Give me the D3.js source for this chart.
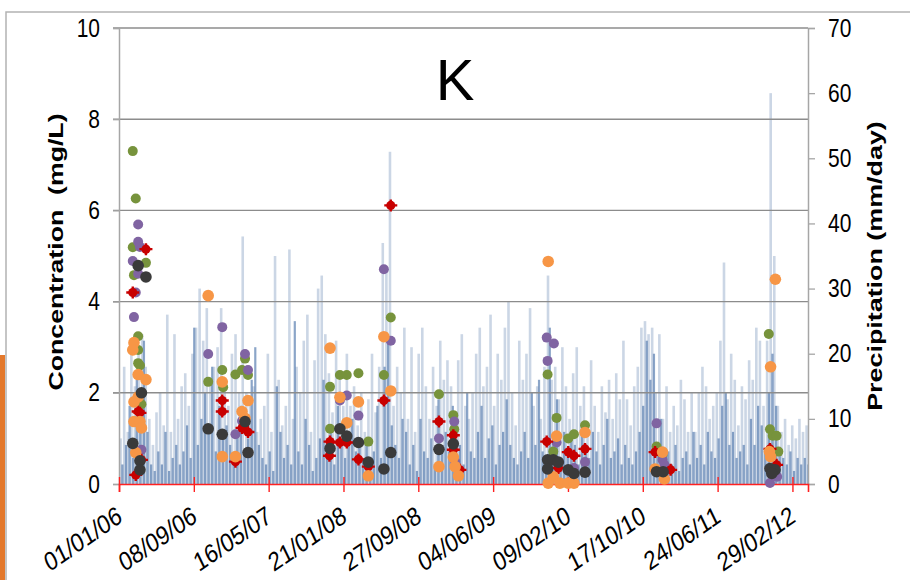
<!DOCTYPE html>
<html>
<head>
<meta charset="utf-8">
<script src="https://cdn.jsdelivr.net/npm/d3@7"></script>
<style>
  body { margin: 0; background: #fff; }
  svg { display: block; font-family: 'Liberation Sans', Arial, sans-serif; }
</style>
</head>
<body>
<div id="chart"></div>
<script>
// x ticks every 250 days
const xTickLabels = ['01/01/06', '08/09/06', '16/05/07', '21/01/08', '27/09/08',
  '04/06/09', '09/02/10', '17/10/10', '24/06/11', '29/02/12'];

const concTicks = [0, 2, 4, 6, 8, 10];
const precipTicks = [0, 10, 20, 30, 40, 50, 60, 70];

// precipitation (mm/day), one bar every 12 days from 01/01/06
const precipStep = 12;
const precipLight = [
  7, 18, 8, 20, 15, 21, 23, 18, 10, 6,
  11, 14, 9, 26, 8, 23, 10, 15, 17, 12,
  20, 24, 30, 22, 27, 16, 18, 21, 27, 15,
  12, 20, 23, 14, 38, 14, 12, 15, 8, 10,
  12, 20, 8, 35, 16, 9, 12, 36, 10, 18,
  14, 22, 26, 8, 19, 30, 32, 23, 17, 11,
  22, 16, 12, 20, 12, 15, 9, 14, 8, 13,
  20, 11, 18, 37, 33, 51, 12, 18, 14, 24,
  10, 21, 8, 20, 24, 15, 10, 18, 12, 22,
  16, 19, 15, 8, 19, 23, 12, 10, 14, 20,
  24, 15, 18, 26, 12, 20, 16, 24, 28, 14,
  9, 22, 16, 20, 27, 12, 15, 10, 18, 32,
  16, 18, 13, 21, 15, 10, 17, 21, 12, 15,
  9, 19, 12, 8, 15, 11, 16, 10, 17, 13,
  22, 13, 9, 15, 18, 24, 25, 23, 24, 14,
  23, 10, 15, 8, 12, 9, 16, 13, 8, 14,
  8, 14, 18, 15, 10, 12, 14, 22, 34, 13,
  20, 16, 9, 15, 13, 19, 16, 24, 22, 12,
  22, 60, 35, 12, 8, 10, 6, 9, 7, 10,
  8, 9
];
// second gauge, offset by 6 days
const precipDark = [
  3, 6, 12, 4, 16, 10, 22, 8, 3, 2,
  5, 3, 8, 2, 4, 6, 3, 5, 9, 4,
  24, 6, 10, 14, 8, 18, 5, 12, 7, 9,
  6, 4, 8, 12, 5, 7, 16, 21, 6, 4,
  3, 5, 2, 15, 8, 4, 6, 3, 25, 5,
  3, 10, 6, 2, 4, 7, 16, 5, 9, 3,
  12, 6, 4, 8, 10, 5, 7, 4, 6, 3,
  5, 12, 4, 18, 22, 9, 6, 4, 10, 8,
  3, 6, 2, 10, 5, 4, 7, 3, 13, 6,
  8, 5, 12, 4, 6, 3, 14, 5, 4, 8,
  12, 4, 7, 9, 3, 6, 8, 13, 6, 4,
  3, 5, 8, 4, 14, 6, 16, 5, 4, 24,
  6, 13, 4, 8, 5, 7, 6, 3, 9, 5,
  4, 8, 5, 3, 6, 10, 4, 5, 7, 3,
  6, 4, 3, 5, 8, 12, 22, 16, 20, 6,
  10, 4, 5, 3, 6, 2, 4, 5, 3, 8,
  4, 6, 3, 8, 5, 4, 7, 12, 14, 6,
  8, 4, 5, 6, 3, 10, 6, 12, 9, 5,
  14, 20, 12, 5, 4, 3, 5, 2, 4, 3,
  4, 3
];

// K concentration (mg/L) samples: [days since 01/01/06, value]
const siteGreen = [
  [46, 7.30], [56, 6.26], [46, 5.19], [90, 4.85], [50, 4.58], [64, 3.24], [64, 2.94],
  [64, 2.65], [70, 2.6], [75, 1.75],
  [298, 2.24], [345, 2.5], [348, 2.12], [389, 2.4], [411, 2.5], [421, 2.75], [431, 2.39],
  [908, 3.65], [705, 2.13], [738, 2.39], [761, 2.39], [800, 2.43], [885, 2.39], [705, 1.21], [833, 0.93],
  [1069, 1.97], [1117, 1.51], [1120, 1.2],
  [1432, 2.4], [1462, 1.45], [1501, 1.0], [1520, 1.09], [1557, 1.29], [1451, 0.71],
  [1796, 0.82], [1816, 0.64],
  [2171, 3.29], [2175, 1.2], [2184, 1.06], [2197, 1.06], [2203, 0.71]
];
const sitePurple = [
  [64, 5.69], [64, 5.31], [70, 5.2], [46, 4.89], [64, 4.61], [56, 4.2], [50, 3.66], [75, 0.75],
  [345, 3.44], [298, 2.85], [421, 2.85], [431, 2.5], [411, 1.38], [389, 1.09],
  [885, 4.71], [908, 3.14], [761, 1.94], [738, 1.83], [800, 1.5],
  [1069, 1.0], [1120, 1.37], [1123, 0.49],
  [1429, 3.21], [1453, 3.08], [1432, 2.7], [1462, 0.91], [1557, 0.48], [1520, 0.35],
  [1796, 1.33], [1816, 0.53], [1822, 0.42],
  [2199, 0.16], [2175, 0.02]
];
const siteRed = [
  [90, 5.15], [46, 4.2], [64, 1.59], [70, 1.56], [75, 0.53], [56, 0.2],
  [345, 1.83], [345, 1.59], [411, 1.23], [431, 1.14], [389, 0.49],
  [908, 6.11], [885, 1.83], [705, 0.93], [738, 0.91], [761, 0.91], [703, 0.62], [800, 0.54], [833, 0.38],
  [1069, 1.37], [1117, 1.07], [1117, 0.75], [1139, 0.31],
  [1429, 0.93], [1501, 0.7], [1520, 0.62], [1557, 0.77], [1468, 0.35],
  [1791, 0.7], [1843, 0.31],
  [2175, 0.77], [2197, 0.42]
];
const siteBlack = [
  [64, 4.79], [90, 4.54], [75, 2.0], [46, 0.89], [70, 0.51], [70, 0.31],
  [298, 1.21], [345, 1.09], [421, 1.37], [431, 0.69],
  [738, 1.21], [761, 1.05], [705, 0.78], [800, 0.91], [833, 0.48], [908, 0.69], [885, 0.33],
  [1069, 0.76], [1117, 0.88],
  [1432, 0.53], [1432, 0.33], [1451, 0.53], [1468, 0.48], [1501, 0.31], [1520, 0.23], [1557, 0.26],
  [1796, 0.27], [1818, 0.27],
  [2175, 0.34], [2192, 0.31], [2181, 0.23]
];
const siteOrange = [
  [50, 3.1], [46, 2.94], [64, 2.4], [90, 2.29], [64, 1.91], [50, 1.8], [50, 1.37], [70, 1.37],
  [75, 1.23], [56, 0.69],
  [298, 4.13], [345, 2.24], [431, 1.83], [411, 1.59], [421, 1.44], [345, 0.6], [389, 0.6],
  [705, 2.98], [885, 3.23], [908, 2.04], [738, 1.9], [800, 1.8], [761, 1.34], [833, 0.18],
  [1069, 0.38], [1117, 0.59], [1123, 0.38], [1134, 0.18],
  [1434, 4.88], [1462, 1.05], [1557, 1.13], [1451, 0.16], [1434, 0.02], [1473, 0.02],
  [1501, 0.02], [1520, 0.02],
  [1791, 0.33], [1816, 0.7], [1822, 0.11],
  [2193, 4.49], [2177, 2.57], [2173, 0.71], [2177, 0.6]
];

const width = 910;
const height = 580;
const plot = { left: 119, right: 808, top: 28, bottom: 484 };

const parseTick = d3.timeParse('%d/%m/%y');
const start = parseTick('01/01/06');
const dayToDate = (d) => d3.timeDay.offset(start, d);

const svg = d3.select('#chart').append('svg')
  .attr('width', width)
  .attr('height', height);

// slide frame + orange accent
svg.append('path')
  .attr('d', 'M6,' + height + 'V12H' + width)
  .attr('fill', 'none')
  .attr('stroke', '#b3b3b3')
  .attr('stroke-width', 1.5);

svg.append('rect')
  .attr('x', 0)
  .attr('y', 355)
  .attr('width', 5)
  .attr('height', height - 355)
  .attr('fill', '#e3782b');

let xScale = d3.scaleTime()
  .domain([start, dayToDate(2302)])
  .range([plot.left, plot.right]);

let yConc = d3.scaleLinear()
  .domain([0, 10])
  .range([plot.bottom, plot.top]);

let yPrecip = d3.scaleLinear()
  .domain([0, 70])
  .range([plot.bottom, plot.top]);

// precipitation bars
svg.append('clipPath').attr('id', 'plotclip')
  .append('rect')
  .attr('x', plot.left)
  .attr('y', plot.top)
  .attr('width', plot.right - plot.left)
  .attr('height', plot.bottom - plot.top);

let bars = svg.append('g').attr('clip-path', 'url(#plotclip)');

bars.selectAll('.bar-light')
  .data(precipLight).enter()
  .append('rect')
    .attr('class', 'bar-light')
    .attr('x', (d, i) => xScale(dayToDate(i * precipStep)) + 0.3)
    .attr('width', 2.6)
    .attr('y', (d) => yPrecip(d))
    .attr('height', (d) => plot.bottom - yPrecip(d))
    .attr('fill', '#b9c8dc')
    .attr('opacity', 0.75);

bars.selectAll('.bar-dark')
  .data(precipDark).enter()
  .append('rect')
    .attr('class', 'bar-dark')
    .attr('x', (d, i) => xScale(dayToDate(i * precipStep + 6)) + 0.5)
    .attr('width', 2.2)
    .attr('y', (d) => yPrecip(d))
    .attr('height', (d) => plot.bottom - yPrecip(d))
    .attr('fill', '#4d75aa')
    .attr('opacity', 0.65);

// gridlines
svg.append('g')
  .selectAll('line')
  .data(concTicks.filter((d) => d > 0)).enter()
  .append('line')
    .attr('x1', plot.left - 6)
    .attr('x2', plot.right)
    .attr('y1', (d) => yConc(d))
    .attr('y2', (d) => yConc(d))
    .attr('stroke', '#8c8c8c')
    .attr('stroke-width', 1.4);

// left axis
let leftAxis = svg.append('g')
  .attr('transform', 'translate(' + plot.left + ',0)')
  .call(d3.axisLeft(yConc).tickValues(concTicks).tickSize(6).tickPadding(13));

// right axis
let rightAxis = svg.append('g')
  .attr('transform', 'translate(' + plot.right + ',0)')
  .call(d3.axisRight(yPrecip).tickValues(precipTicks).tickSize(7).tickPadding(13));

[leftAxis, rightAxis].forEach((ax) => {
  ax.select('.domain').attr('stroke', '#a6a6a6').attr('stroke-width', 1.5);
  ax.selectAll('.tick line').attr('stroke', '#a6a6a6').attr('stroke-width', 1.3);
  ax.selectAll('.tick text')
    .attr('fill', '#000')
    .style('font-size', '21px')
    .attr('transform', 'scale(1,1.2)');
});

// x axis (red)
let xAxis = svg.append('g')
  .attr('transform', 'translate(0,' + plot.bottom + ')')
  .call(d3.axisBottom(xScale)
    .tickValues(xTickLabels.map(parseTick))
    .tickFormat(d3.timeFormat('%d/%m/%y'))
    .tickSize(8));

xAxis.select('.domain').attr('stroke', '#ff2020').attr('stroke-width', 1.6);
xAxis.selectAll('.tick line')
  .attr('stroke', '#ff2020')
  .attr('stroke-width', 1.4)
  .attr('y1', -7)
  .attr('y2', 8);
xAxis.selectAll('.tick text')
  .attr('fill', '#000')
  .attr('x', 0)
  .attr('y', 0)
  .attr('dy', 0)
  .attr('text-anchor', 'end')
  .style('font-size', '22px')
  .attr('transform', 'translate(4,37) scale(1,1.2) rotate(-30)');

// concentration markers
function drawSite(data, color, r) {
  svg.append('g')
    .selectAll('circle')
    .data(data).enter()
    .append('circle')
      .attr('cx', (d) => xScale(dayToDate(d[0])))
      .attr('cy', (d) => yConc(d[1]))
      .attr('r', r)
      .attr('fill', color);
}

drawSite(siteGreen, '#77933c', 5);
drawSite(sitePurple, '#8064a2', 5);

let red = svg.append('g');
red.selectAll('circle')
  .data(siteRed).enter()
  .append('circle')
    .attr('cx', (d) => xScale(dayToDate(d[0])))
    .attr('cy', (d) => yConc(d[1]))
    .attr('r', 4.6)
    .attr('fill', '#c80000');
red.selectAll('path')
  .data(siteRed).enter()
  .append('path')
    .attr('d', (d) => {
      let cx = xScale(dayToDate(d[0]));
      let cy = yConc(d[1]);
      return 'M' + (cx - 6.5) + ',' + cy + 'H' + (cx + 6.5) + 'M' + cx + ',' + (cy - 6) + 'V' + (cy + 6);
    })
    .attr('stroke', '#c80000')
    .attr('stroke-width', 2.4);

drawSite(siteOrange, '#f79646', 5.8);
drawSite(siteBlack, '#3a3a3a', 5.8);

// titles
svg.append('text')
  .attr('x', 455)
  .attr('y', 100)
  .attr('text-anchor', 'middle')
  .style('font-size', '58px')
  .text('K');

svg.append('text')
  .attr('transform', 'translate(63,252) rotate(-90) scale(1.27,1)')
  .attr('text-anchor', 'middle')
  .style('font-size', '21px')
  .style('font-weight', 'bold')
  .style('white-space', 'pre')
  .attr('xml:space', 'preserve')
  .text('Concentration  (mg/L)');

svg.append('text')
  .attr('transform', 'translate(882,266) rotate(-90) scale(1.28,1)')
  .attr('text-anchor', 'middle')
  .style('font-size', '21px')
  .style('font-weight', 'bold')
  .text('Precipitation (mm/day)');
</script>
</body>
</html>
